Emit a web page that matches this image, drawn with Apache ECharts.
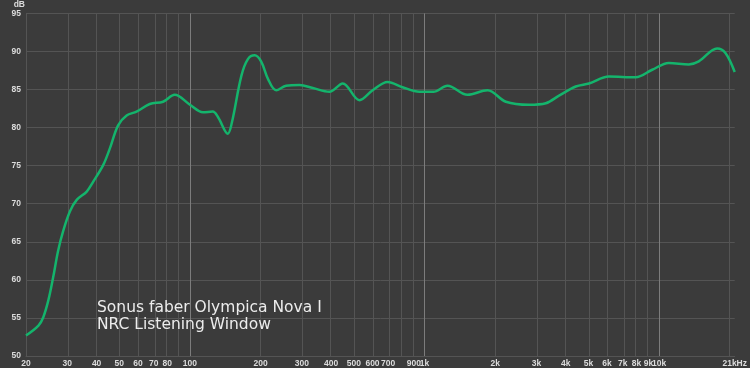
<!DOCTYPE html>
<html>
<head>
<meta charset="utf-8">
<script src="https://cdn.jsdelivr.net/npm/echarts@6/dist/echarts.min.js"></script>
<style>
html,body{margin:0;padding:0;background:#3b3b3b;}
#c{width:750px;height:368px;}
</style>
</head>
<body>
<div id="c"></div>
<script>
// Frequency response (Hz) and level (dB)
var freqs = [20, 22.6, 23.7, 24.9, 26.1, 27.4, 28.8, 30.8, 32.9, 36.3, 38.7, 42.7, 45.6, 49.4, 53.7, 59.2, 67.4, 76.8, 86.1, 100, 113.6, 125, 131.6, 145, 151, 165.6, 176.6, 188.6, 201, 215, 233, 257, 293, 334, 393, 448, 528, 601, 696, 806, 950, 1090, 1253, 1525, 1854, 2221, 2791, 3288, 3744, 4411, 5024, 6110, 7940, 9343, 11000, 13386, 14760, 17670, 19170, 21000];
var levels = [52.7, 54.0, 55.1, 57.3, 60.3, 63.8, 66.4, 69.0, 70.5, 71.6, 72.9, 75.1, 77.3, 80.3, 81.6, 82.1, 83.1, 83.4, 84.3, 83.0, 82.0, 82.1, 81.4, 79.2, 80.7, 86.8, 89.0, 89.5, 88.7, 86.4, 84.9, 85.5, 85.6, 85.2, 84.7, 85.8, 83.6, 84.9, 86.0, 85.3, 84.7, 84.7, 85.5, 84.3, 84.9, 83.4, 83.0, 83.2, 84.2, 85.4, 85.8, 86.7, 86.6, 87.6, 88.5, 88.3, 88.7, 90.4, 89.8, 87.3];
var tickFreqs = [20, 30, 40, 50, 60, 70, 80, 100, 200, 300, 400, 500, 600, 700, 900, 1000, 2000, 3000, 4000, 5000, 6000, 7000, 8000, 9000, 10000, 21000];
var tickLabels = ['20', '30', '40', '50', '60', '70', '80', '100', '200', '300', '400', '500', '600', '700', '900', '1k', '2k', '3k', '4k', '5k', '6k', '7k', '8k', '9k', '10k', '21kHz'];
var minorGridFreqs = [30, 40, 50, 60, 70, 80, 90, 200, 300, 400, 500, 600, 700, 800, 900, 2000, 3000, 4000, 5000, 6000, 7000, 8000, 9000, 20000];
var majorGridFreqs = [100, 1000, 10000];
var titleLines = ['Sonus faber Olympica Nova I', 'NRC Listening Window'];

var lg = function (f) { return Math.log10(f); };
var seriesData = freqs.map(function (f, i) { return [lg(f), levels[i]]; });

var labelVals = tickFreqs.map(lg);
function fmt(v) {
  for (var i = 0; i < labelVals.length; i++) {
    if (Math.abs(labelVals[i] - v) < 1e-6) return tickLabels[i];
  }
  return '';
}

var gridLines = minorGridFreqs.map(function (f) {
  return { xAxis: lg(f), lineStyle: { color: '#545454', width: 1, type: 'solid' } };
}).concat(majorGridFreqs.map(function (f) {
  return { xAxis: lg(f), lineStyle: { color: '#7c7c7c', width: 1, type: 'solid' } };
}));

var labelFont = '"Liberation Sans Narrow", "Liberation Sans", sans-serif';

var chart = echarts.init(document.getElementById('c'), null, { renderer: 'canvas' });
chart.setOption({
  backgroundColor: '#3b3b3b',
  animation: false,
  grid: { left: 26, right: 14, top: 10.5, bottom: 12, containLabel: false },
  xAxis: {
    type: 'value',
    min: lg(20),
    max: lg(21000),
    axisLine: { show: true, lineStyle: { color: '#545454' } },
    axisTick: { show: false },
    splitLine: { show: false },
    axisLabel: {
      customValues: labelVals,
      formatter: fmt,
      color: '#dcdcdc',
      fontSize: 8.5,
      fontWeight: 'bold',
      fontFamily: labelFont,
      margin: 3,
      hideOverlap: false
    }
  },
  yAxis: {
    type: 'value',
    min: 50,
    max: 95,
    interval: 5,
    axisLine: { show: true, lineStyle: { color: '#545454' } },
    axisTick: { show: false },
    splitLine: { show: true, lineStyle: { color: '#545454', width: 1 } },
    axisLabel: {
      color: '#dcdcdc',
      fontSize: 8.5,
      fontWeight: 'bold',
      fontFamily: labelFont,
      margin: 5
    },
    name: 'dB',
    nameLocation: 'end',
    nameGap: 1,
    nameTextStyle: { color: '#dcdcdc', fontSize: 8.5, fontWeight: 'bold', fontFamily: labelFont, align: 'right', padding: [0, 1, -2, 0] }
  },
  series: [{
    type: 'line',
    data: seriesData,
    smooth: 0.35,
    showSymbol: false,
    symbol: 'none',
    z: 5,
    lineStyle: { color: '#14b46c', width: 2.5 },
    markLine: {
      silent: true,
      symbol: ['none', 'none'],
      label: { show: false },
      z: 1,
      data: gridLines
    }
  }],
  graphic: [{
    type: 'text',
    left: 97,
    top: 299,
    z: 10,
    style: {
      text: titleLines.join('\n'),
      fill: '#ececec',
      font: '15.5px "DejaVu Sans"',
      lineHeight: 17
    }
  }]
});
</script>
</body>
</html>
